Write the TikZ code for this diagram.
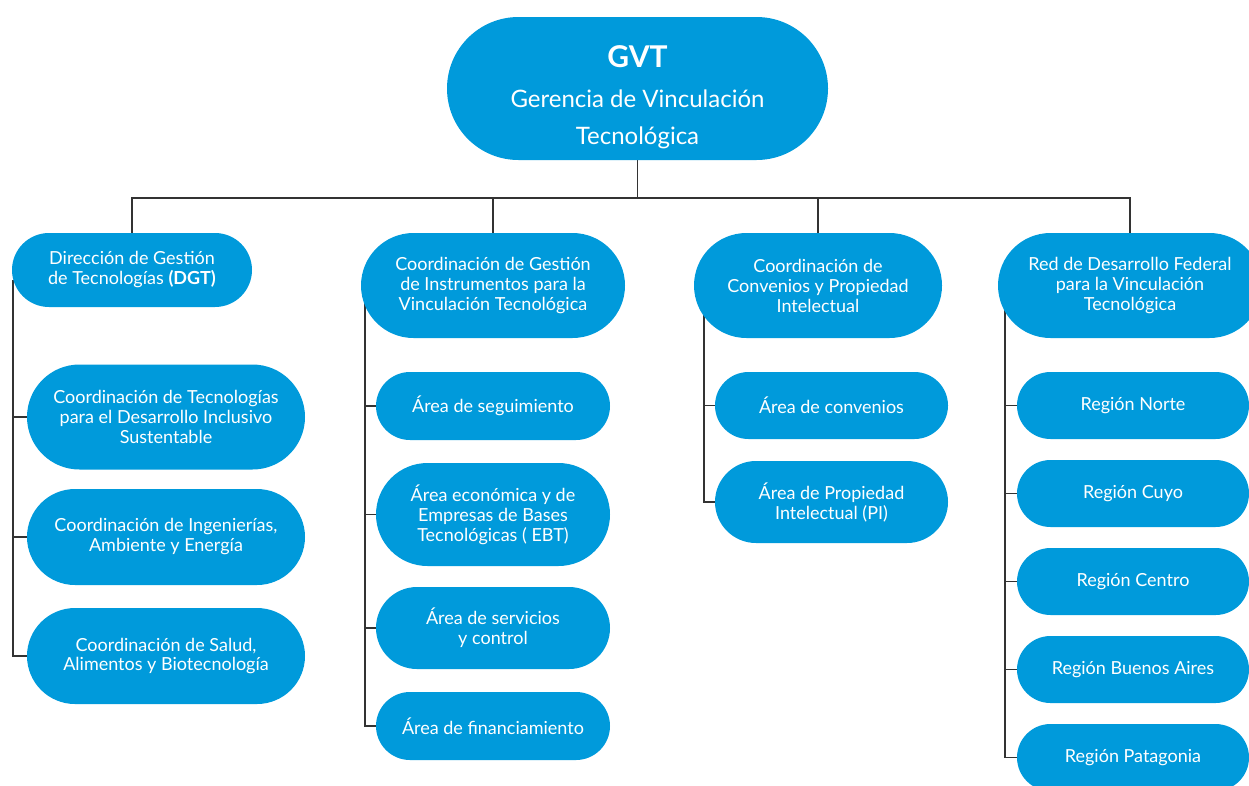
\documentclass[tikz,border=0pt]{standalone}
\usepackage{fontspec}
\setmainfont{Lato}
\usetikzlibrary{shapes.misc,backgrounds}
\definecolor{boxblue}{HTML}{009ADB}
\definecolor{linegray}{HTML}{333333}
\tikzset{
  box/.style={rounded rectangle, fill=boxblue, text=white, align=center, inner sep=0pt,
    font=\fontsize{18}{20}\selectfont},
  conn/.style={draw=linegray, line width=1.2pt}
}
\begin{document}
\begin{tikzpicture}[x=1pt,y=-1pt]
\useasboundingbox (0,0) rectangle (1249,785);
% top
\node[box, minimum width=381pt, minimum height=143pt, font=\fontsize{24}{37}\selectfont] (gvt) at (637.5,88.5)
  {\rule{0pt}{40pt}{\fontsize{30}{30}\selectfont\bfseries GVT}\\[3pt]Gerencia de Vinculación\\Tecnológica};
% level 1
\node[box, minimum width=240pt, minimum height=74pt] (dgt) at (132,270)
  {Dirección de Gestión\\de Tecnologías \textbf{(DGT)}};
\node[box, minimum width=264pt, minimum height=105pt] (cg) at (493,285.5)
  {Coordinación de Gestión\\de Instrumentos para la\\Vinculación Tecnológica};
\node[box, minimum width=248pt, minimum height=105pt] (cc) at (818,285.5)
  {Coordinación de\\Convenios y Propiedad\\Intelectual};
\node[box, minimum width=264pt, minimum height=105pt] (rd) at (1130,285.5)
  {Red de Desarrollo Federal\\para la Vinculación\\Tecnológica};
% column 1
\node[box, minimum width=278pt, minimum height=105pt] (ct) at (166,417)
  {Coordinación de Tecnologías\\para el Desarrollo Inclusivo\\Sustentable};
\node[box, minimum width=278pt, minimum height=96pt] (ci) at (166,537)
  {Coordinación de Ingenierías,\\Ambiente y Energía};
\node[box, minimum width=278pt, minimum height=96pt] (cs) at (166,656)
  {Coordinación de Salud,\\Alimentos y Biotecnología};
% column 2
\node[box, minimum width=234pt, minimum height=68pt] (as) at (493,406) {Área de seguimiento};
\node[box, minimum width=234pt, minimum height=103pt] (ae) at (493,514.5)
  {Área económica y de\\Empresas de Bases\\Tecnológicas ( EBT)};
\node[box, minimum width=234pt, minimum height=82pt] (asv) at (493,628)
  {Área de servicios\\y control};
\node[box, minimum width=234pt, minimum height=68pt] (af) at (493,726) {Área de financiamiento};
% column 3
\node[box, minimum width=233pt, minimum height=67pt] (acv) at (831.5,405.5) {Área de convenios};
\node[box, minimum width=233pt, minimum height=82pt] (api) at (831.5,502)
  {Área de Propiedad\\Intelectual (PI)};
% column 4
\node[box, minimum width=232pt, minimum height=67pt] (rn) at (1133,405.5) {Región Norte};
\node[box, minimum width=232pt, minimum height=67pt] (rc) at (1133,493.5) {Región Cuyo};
\node[box, minimum width=232pt, minimum height=67pt] (rce) at (1133,581.5) {Región Centro};
\node[box, minimum width=232pt, minimum height=67pt] (rba) at (1133,669.5) {Región Buenos Aires};
\node[box, minimum width=232pt, minimum height=67pt] (rp) at (1133,757.5) {Región Patagonia};
% connectors
\coordinate (bus) at (0,198);
\coordinate (s1) at (13,280);
\coordinate (s2) at (365,300);
\coordinate (s3) at (704,300);
\coordinate (s4) at (1005,300);
\begin{scope}[on background layer]
\draw[conn] (gvt.south) -- (gvt.south |- bus);
\draw[conn] (dgt.north) -- (dgt.north |- bus) -- (rd.north |- bus) -- (rd.north);
\draw[conn] (cg.north) -- (cg.north |- bus);
\draw[conn] (cc.north) -- (cc.north |- bus);
\draw[conn] (s1) |- (cs.west);
\draw[conn] (s1 |- ct.west) -- (ct.west);
\draw[conn] (s1 |- ci.west) -- (ci.west);
\draw[conn] (s2) |- (af.west);
\draw[conn] (s2 |- as.west) -- (as.west);
\draw[conn] (s2 |- ae.west) -- (ae.west);
\draw[conn] (s2 |- asv.west) -- (asv.west);
\draw[conn] (s3) |- (api.west);
\draw[conn] (s3 |- acv.west) -- (acv.west);
\draw[conn] (s4) |- (rp.west);
\draw[conn] (s4 |- rn.west) -- (rn.west);
\draw[conn] (s4 |- rc.west) -- (rc.west);
\draw[conn] (s4 |- rce.west) -- (rce.west);
\draw[conn] (s4 |- rba.west) -- (rba.west);
\end{scope}
\end{tikzpicture}
\end{document}
